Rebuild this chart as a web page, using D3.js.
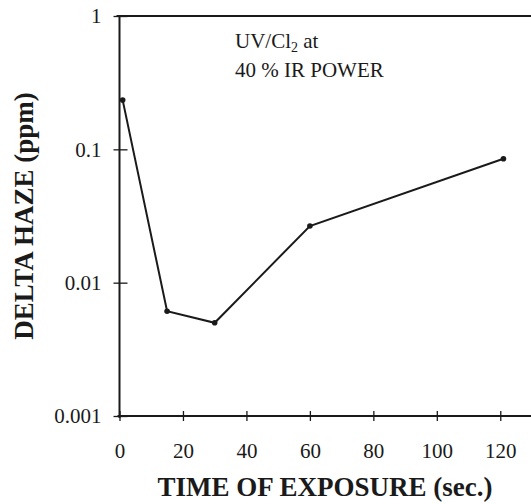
<!DOCTYPE html>
<html>
<head>
<meta charset="utf-8">
<script src="https://cdn.jsdelivr.net/npm/d3@7"></script>
<style>
  body { margin: 0; background: #fff; }
  text { font-family: "Liberation Serif", "Times New Roman", serif; fill: #1a1a1a; }
</style>
</head>
<body>
<div id="chart-area"></div>
<script>
var outerWidth = 531;
var outerHeight = 504;

// data
var times = [1, 15, 30, 60, 121];
var haze = [0.234, 0.0061, 0.0050, 0.0266, 0.085];
var xTicks = [0, 20, 40, 60, 80, 100, 120];
var yTicks = [1, 0.1, 0.01, 0.001];
var yTickLabels = ['1', '0.1', '0.01', '0.001'];

var ink = '#1a1a1a';
var serif = '"Liberation Serif", "Times New Roman", serif';

var svg = d3.select('#chart-area').append('svg')
            .attr('width', outerWidth)
            .attr('height', outerHeight);

// scales
var xScale = d3.scaleLinear().domain([0, 130]).range([119.5, 532]);
var yScale = d3.scaleLog().domain([0.001, 1]).range([416, 16]);

// x axis (ticks cross the line)
var xAxisG = svg.append('g')
                .attr('transform', 'translate(0,' + yScale(0.001) + ')')
                .call(d3.axisBottom(xScale).tickValues(xTicks).tickSize(5).tickPadding(22));
xAxisG.select('.domain').remove();
xAxisG.selectAll('.tick line').attr('y1', -5).attr('y2', 5).attr('stroke', ink).attr('stroke-width', 1.3);
xAxisG.selectAll('.tick text')
      .style('font-size', '21px')
      .style('font-family', serif)
      .attr('fill', ink);

// y axis
var yAxisG = svg.append('g')
                .attr('transform', 'translate(' + xScale(0) + ',0)')
                .call(d3.axisLeft(yScale).tickValues(yTicks)
                        .tickFormat(function(d, i) { return yTickLabels[i]; })
                        .tickSize(6).tickPadding(12));
yAxisG.select('.domain').remove();
yAxisG.selectAll('.tick line').attr('x1', -6).attr('x2', 8).attr('stroke', ink).attr('stroke-width', 1.3);
yAxisG.selectAll('.tick text')
      .style('font-size', '21px')
      .style('font-family', serif)
      .attr('fill', ink);

// frame lines: left, bottom, top
svg.append('line')
   .attr('x1', xScale(0)).attr('x2', xScale(0))
   .attr('y1', yScale(1) - 1).attr('y2', yScale(0.001) + 2)
   .attr('stroke', ink).attr('stroke-width', 2);
svg.append('line')
   .attr('x1', xScale(0) - 2).attr('x2', outerWidth)
   .attr('y1', yScale(0.001)).attr('y2', yScale(0.001))
   .attr('stroke', ink).attr('stroke-width', 2);
svg.append('line')
   .attr('x1', xScale(0) - 3).attr('x2', outerWidth)
   .attr('y1', yScale(1)).attr('y2', yScale(1))
   .attr('stroke', ink).attr('stroke-width', 2);

// data line
var pts = times.map(function(t, i) { return {t: t, v: haze[i]}; });
var line = d3.line()
             .x(function(d) { return xScale(d.t); })
             .y(function(d) { return yScale(d.v); });

svg.append('path')
   .attr('d', line(pts))
   .attr('fill', 'none')
   .attr('stroke', ink)
   .attr('stroke-width', 2);

svg.selectAll('.pt')
   .data(pts).enter()
   .append('circle')
   .attr('class', 'pt')
   .attr('cx', function(d) { return xScale(d.t); })
   .attr('cy', function(d) { return yScale(d.v); })
   .attr('r', 2.8)
   .attr('fill', ink);

// annotation
var note = svg.append('text')
              .attr('x', 235).attr('y', 48)
              .style('font-size', '21px');
note.append('tspan').text('UV/Cl');
note.append('tspan').style('font-size', '14px').attr('dy', 4).text('2');
note.append('tspan').attr('dy', -4).text(' at');
svg.append('text')
   .attr('x', 235).attr('y', 77)
   .style('font-size', '21px')
   .text('40 % IR POWER');

// axis titles
svg.append('text')
   .attr('x', 325).attr('y', 496)
   .attr('text-anchor', 'middle')
   .style('font-size', '27px')
   .attr('font-weight', 'bold')
   .text('TIME OF EXPOSURE (sec.)');

svg.append('text')
   .attr('transform', 'translate(33,216) rotate(-90)')
   .attr('text-anchor', 'middle')
   .style('font-size', '27px')
   .attr('font-weight', 'bold')
   .text('DELTA HAZE (ppm)');
</script>
</body>
</html>
